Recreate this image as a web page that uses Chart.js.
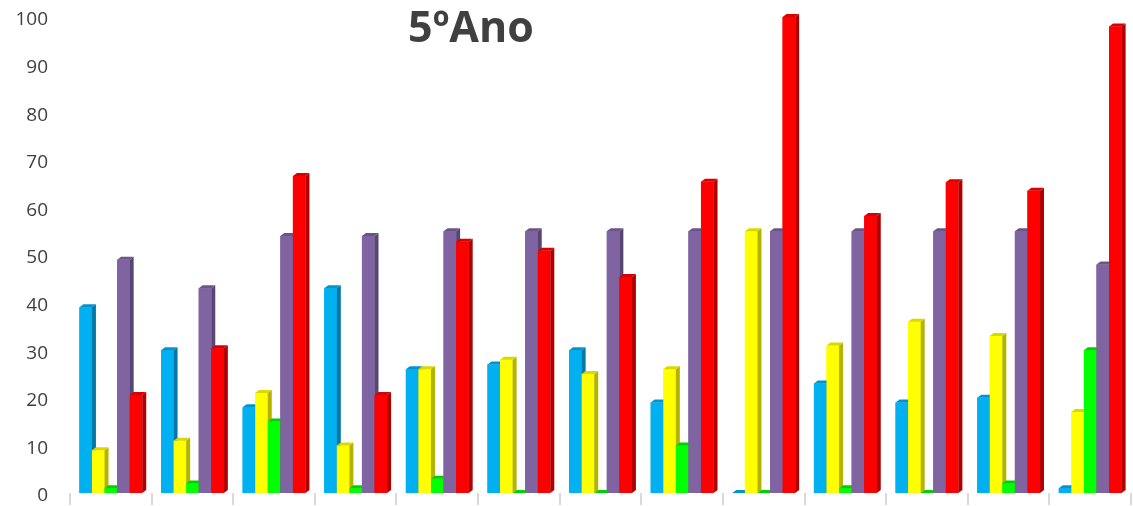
<!DOCTYPE html>
<html>
<head>
<meta charset="utf-8">
<script src="https://cdn.jsdelivr.net/npm/chart.js@4.4.1/dist/chart.umd.min.js"></script>
<style>
  html, body { margin: 0; padding: 0; background: #ffffff; }
  #wrap { position: relative; width: 1133px; height: 506px; }
</style>
</head>
<body>
<div id="wrap"><canvas id="c"></canvas></div>
<script>
// ---- data ----
const title = "5ºAno";
const categories = ["1", "2", "3", "4", "5", "6", "7", "8", "9", "10", "11", "12", "13"];
const seriesNames = ["Série 1", "Série 2", "Série 3", "Série 4", "Série 5"];
const blueValues   = [39, 30, 18, 43, 26, 27, 30, 19, 0, 23, 19, 20, 1];
const yellowValues = [9, 11, 21, 10, 26, 28, 25, 26, 55, 31, 36, 33, 17];
const greenValues  = [1, 2, 15, 1, 3, 0, 0, 10, 0, 1, 0, 2, 30];
const purpleValues = [49, 43, 54, 54, 55, 55, 55, 55, 55, 55, 55, 55, 48];
const redValues    = [20.6, 30.4, 66.6, 20.6, 52.8, 50.9, 45.4, 65.4, 100, 58.2, 65.3, 63.5, 98];
const yTicks = [0, 10, 20, 30, 40, 50, 60, 70, 80, 90, 100];

// ---- styles ----
const frontColors = ["#00B0F0", "#FFFF00", "#00FF00", "#8064A2", "#FF0000"];
const sideColors  = ["#0079A6", "#B3B300", "#00B300", "#574574", "#B00000"];
const topColors   = ["#0094CC", "#D9D900", "#00D000", "#6B5488", "#D80000"];
const allValues = [blueValues, yellowValues, greenValues, purpleValues, redValues];

const DX = 4, DY = 3;
// Redraw bars category by category, left series first, adding a side and top face
const depthPlugin = {
  id: 'depth3d',
  afterDatasetsDraw(chart) {
    const ctx = chart.ctx;
    const metas = chart.data.datasets.map((d, i) => chart.getDatasetMeta(i));
    ctx.save();
    for (let c = 0; c < categories.length; c++) {
      metas.forEach((meta, i) => {
        const bar = meta.data[c];
        if (!bar) return;
        const p = bar.getProps(['x', 'y', 'base', 'width'], true);
        const l = p.x - p.width / 2, r = p.x + p.width / 2;
        // front face
        ctx.fillStyle = frontColors[i];
        ctx.fillRect(l, p.y, p.width, p.base - p.y);
        // side face
        ctx.fillStyle = sideColors[i];
        ctx.beginPath();
        ctx.moveTo(r, p.y);
        ctx.lineTo(r + DX, p.y - DY);
        ctx.lineTo(r + DX, p.base - DY);
        ctx.lineTo(r, p.base);
        ctx.closePath();
        ctx.fill();
        // top face
        ctx.fillStyle = topColors[i];
        ctx.beginPath();
        ctx.moveTo(l, p.y);
        ctx.lineTo(l + DX, p.y - DY);
        ctx.lineTo(r + DX, p.y - DY);
        ctx.lineTo(r, p.y);
        ctx.closePath();
        ctx.fill();
      });
    }
    ctx.restore();
  }
};

const titlePlugin = {
  id: 'overlayTitle',
  afterDraw(chart) {
    const ctx = chart.ctx;
    ctx.save();
    ctx.font = 'bold 43px "Open Sans", sans-serif';
    ctx.fillStyle = '#404040';
    ctx.textAlign = 'center';
    ctx.textBaseline = 'middle';
    ctx.fillText(title, 471, 30);
    ctx.restore();
  }
};

const datasets = seriesNames.map((name, i) => ({
  label: name,
  data: allValues[i],
  backgroundColor: frontColors[i],
  borderWidth: 0
}));

new Chart(document.getElementById('c'), {
  type: 'bar',
  data: { labels: categories, datasets },
  options: {
    responsive: true,
    maintainAspectRatio: false,
    animation: false,
    layout: { padding: { top: 17, left: 0, right: 2, bottom: 0 } },
    plugins: {
      legend: { display: false },
      tooltip: { enabled: false },
      title: { display: false }
    },
    datasets: { bar: { categoryPercentage: 0.77, barPercentage: 1.0 } },
    scales: {
      x: {
        type: 'category',
        offset: true,
        afterFit(scale) { scale.height = 13; scale.paddingLeft = 0; scale.paddingRight = 0; },
        grid: {
          display: true,
          offset: true,
          drawOnChartArea: false,
          drawTicks: true,
          tickLength: 12,
          color: '#d9d9d9',
          lineWidth: 2
        },
        border: { display: false },
        ticks: { display: false }
      },
      y: {
        min: 0,
        max: 100,
        afterBuildTicks(axis) { axis.ticks = yTicks.map(v => ({ value: v })); },
        afterFit(scale) { scale.width = 70; scale.paddingTop = 0; scale.paddingBottom = 0; },
        grid: { display: false, drawTicks: false },
        border: { display: false },
        ticks: {
          padding: 22,
          labelOffset: 3,
          color: '#404040',
          font: { family: '"Open Sans", sans-serif', size: 19 }
        }
      }
    }
  },
  plugins: [depthPlugin, titlePlugin]
});
</script>
</body>
</html>
